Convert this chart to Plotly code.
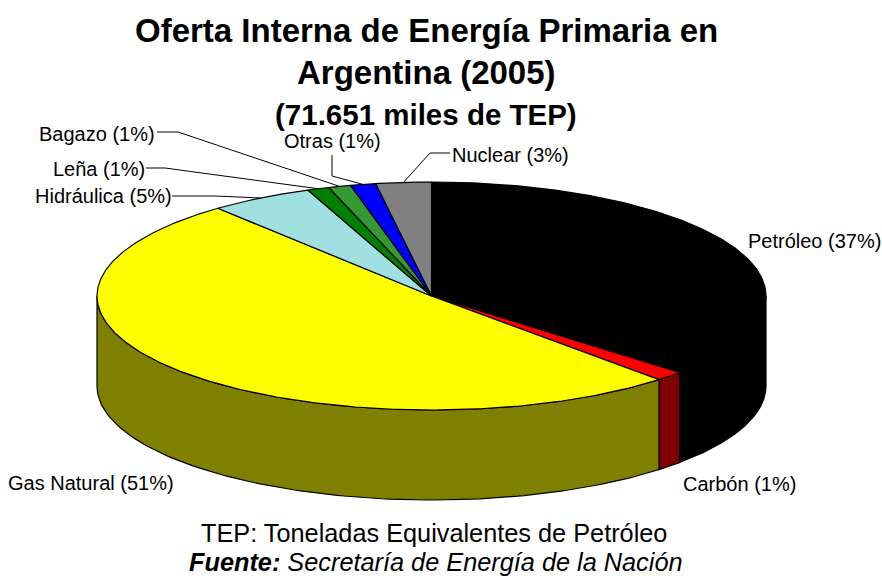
import numpy as np
import plotly.graph_objects as go

categories = ["Petróleo", "Carbón", "Gas Natural", "Hidráulica", "Leña", "Bagazo", "Otras", "Nuclear"]
values = [36.7, 1.4, 50.87, 5.0, 1.06, 1.08, 1.22, 2.67]
percent_labels = [37, 1, 51, 5, 1, 1, 1, 3]
top_colors = ["#000000", "#FF0000", "#FFFF00", "#A0E0E0", "#008000", "#339933", "#0000FF", "#808080"]
side_colors = ["#000000", "#800000", "#808000", "#5A8080", "#004000", "#1A4D1A", "#000080", "#404040"]

CX, CY, RX, RY, DEPTH = 431.5, 296, 334.5, 114, 90
W, H = 882, 576
FONT = "Liberation Sans, Arial, sans-serif"


def ex(t):
    return CX + RX * np.sin(t)


def ey(t):
    return CY - RY * np.cos(t)


fig = go.Figure()


def poly(x, y, fill):
    fig.add_trace(go.Scatter(
        x=list(x), y=list(y), mode="lines", fill="toself", fillcolor=fill,
        line=dict(color="#000000", width=1.2), hoverinfo="skip", showlegend=False))


edges = np.cumsum([0] + values) / sum(values) * 2 * np.pi

# walls (only the front half of the cylinder is visible)
for i in range(len(values)):
    a = max(edges[i], np.pi / 2)
    b = min(edges[i + 1], 3 * np.pi / 2)
    if b <= a:
        continue
    t = np.linspace(a, b, 120)
    xs = np.concatenate([ex(t), ex(t[::-1]), ex(t[:1])])
    ys = np.concatenate([ey(t), ey(t[::-1]) + DEPTH, ey(t[:1])])
    poly(xs, ys, side_colors[i])

# top face
for i in range(len(values)):
    t = np.linspace(edges[i], edges[i + 1], max(8, int(values[i] * 6)))
    xs = np.concatenate([[CX], ex(t), [CX]])
    ys = np.concatenate([[CY], ey(t), [CY]])
    poly(xs, ys, top_colors[i])

# leader lines: label-side knots, ending at each slice's rim midpoint
leaders = {
    "Hidráulica": [(172, 196), (215, 196)],
    "Leña": [(146, 168), (165, 168)],
    "Bagazo": [(157, 132), (178, 132)],
    "Otras": [(332, 155), (332, 176)],
    "Nuclear": [(450, 153), (430, 153)],
}
for name, knots in leaders.items():
    i = categories.index(name)
    mid = (edges[i] + edges[i + 1]) / 2
    xs = [k[0] for k in knots] + [float(ex(mid))]
    ys = [k[1] for k in knots] + [float(ey(mid))]
    fig.add_trace(go.Scatter(x=xs, y=ys, mode="lines", line=dict(color="#000000", width=1),
                             hoverinfo="skip", showlegend=False))

label_pos = {
    "Petróleo": (814, 241),
    "Carbón": (739, 484),
    "Gas Natural": (91, 483),
    "Hidráulica": (103, 196),
    "Leña": (99, 169),
    "Bagazo": (97, 134),
    "Otras": (332, 141),
    "Nuclear": (510, 155),
}
annotations = []
for name, pct in zip(categories, percent_labels):
    x, y = label_pos[name]
    annotations.append(dict(x=x, y=y, xref="x", yref="y", text=f"{name} ({pct}%)", showarrow=False,
                            xanchor="center", yanchor="middle", font=dict(size=20, color="#000000", family=FONT)))

texts = [
    ("<b>Oferta Interna de Energía Primaria en</b>", 426, 30, 33),
    ("<b>Argentina (2005)</b>", 426, 72, 33),
    ("<b>(71.651 miles de TEP)</b>", 426, 114, 29.5),
    ("TEP: Toneladas Equivalentes de Petróleo", 434, 533, 25.3),
    ("<b><i>Fuente:</i></b><i> Secretaría de Energía de la Nación</i>", 436, 561.5, 25.3),
]
for text, x, y, size in texts:
    annotations.append(dict(x=x, y=y, xref="x", yref="y", text=text, showarrow=False,
                            xanchor="center", yanchor="middle", font=dict(size=size, color="#000000", family=FONT)))

fig.update_layout(
    width=W, height=H, margin=dict(l=0, r=0, t=0, b=0), paper_bgcolor="white", plot_bgcolor="white",
    xaxis=dict(range=[0, W], visible=False, fixedrange=True),
    yaxis=dict(range=[H, 0], visible=False, fixedrange=True),
    annotations=annotations, showlegend=False,
)
fig.write_html("out.html", config={"displayModeBar": False},
               post_script="document.body.style.margin='0';document.body.style.overflow='hidden';")
